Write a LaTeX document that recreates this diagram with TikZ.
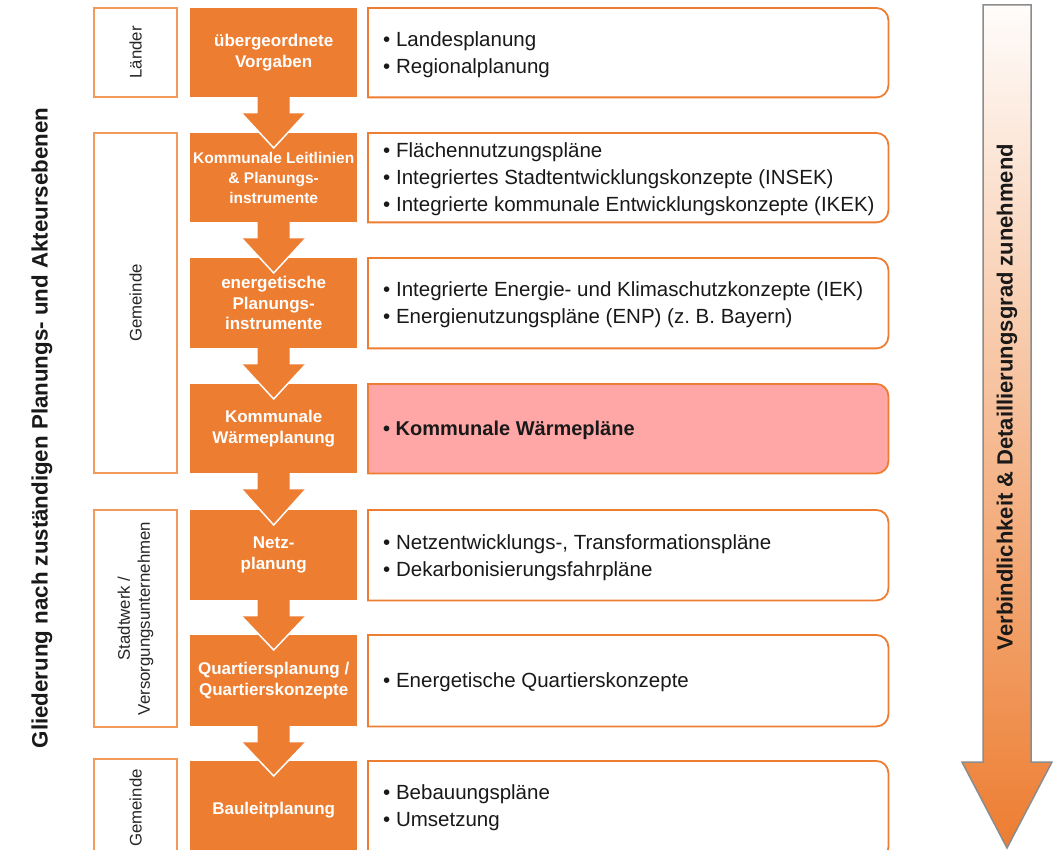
\documentclass[tikz,border=0pt]{standalone}
\usepackage{fontspec}
\setmainfont{Liberation Sans}
\usetikzlibrary{calc}
\definecolor{orng}{HTML}{ED7D31}
\definecolor{lblb}{HTML}{F19A5C}
\definecolor{pinkf}{HTML}{FFA7A7}
\definecolor{arrgray}{HTML}{8C8C8C}
\newcommand{\rightpanel}[4]{%
  \node[minimum width=520pt, minimum height=#3pt, inner sep=0pt, anchor=north west] (#1) at (368,#2) {};
  \draw[line width=1.8pt, draw=orng, fill=#4] (#1.north west) -- ([xshift=-12pt]#1.north east)
     arc[start angle=90,end angle=0,radius=12pt] -- ([yshift=12pt]#1.south east)
     arc[start angle=0,end angle=-90,radius=12pt] -- (#1.south west) -- cycle;
}
\newcommand{\flowarrow}[2]{%
  \fill[orng] ($(#1.south)+(-16,-0.5)$) -- ($(#1.south)+(-16,16)$) -- ($(#1.south)+(-32,16)$)
     -- ($(#2.north)+(0,15)$) -- ($(#1.south)+(32,16)$) -- ($(#1.south)+(16,16)$)
     -- ($(#1.south)+(16,-0.5)$) -- cycle;
  \draw[white, line width=1.5pt] ($(#1.south)+(-32,16)$) -- ($(#2.north)+(0,15)$) -- ($(#1.south)+(32,16)$);
}
\begin{document}
\begin{tikzpicture}[x=1pt,y=-1pt,
  lbl/.style={draw=lblb, line width=1.8pt, fill=white, rotate=90, inner sep=0pt, align=center,
    minimum height=83pt, font=\fontsize{16.8}{20}\selectfont, text=black!85},
  obox/.style={fill=orng, minimum width=167pt, inner sep=0pt, align=center, text=white,
    font=\fontsize{17}{20.5}\selectfont\bfseries, anchor=north west},
  rtext/.style={anchor=west, align=left, inner sep=0pt, font=\fontsize{20.5}{27}\selectfont, text=black!90},
  sidetext/.style={rotate=90, font=\fontsize{22}{26}\selectfont\bfseries, text=black!90},
]
\clip (0,0) rectangle (1053,850);
\fill[white] (0,0) rectangle (1053,850);

% left label boxes
\node[lbl, minimum width=89pt] (l1) at (135.5,52.5) {Länder};
\node[lbl, minimum width=340pt] (l2) at (135.5,303) {Gemeinde};
\node[lbl, minimum width=217pt] (l3) at (135.5,618.5) {Stadtwerk /\\Versorgungsunternehmen};
\node[lbl, minimum width=98pt] (l4) at (135.5,808) {Gemeinde};

% orange boxes
\node[obox, minimum height=89pt] (o1) at (190,8) {übergeordnete\\Vorgaben};
\node[obox, minimum height=89pt, font=\fontsize{15.5}{20}\selectfont\bfseries] (o2) at (190,133) {\raisebox{-4pt}{}Kommunale Leitlinien\\\& Planungs-\\instrumente};
\node[obox, minimum height=90pt] (o3) at (190,258) {energetische\\Planungs-\\instrumente};
\node[obox, minimum height=89pt] (o4) at (190,384) {Kommunale\\Wärmeplanung};
\node[obox, minimum height=90pt] (o5) at (190,510) {Netz-\\planung};
\node[obox, minimum height=91pt] (o6) at (190,635) {Quartiersplanung /\\Quartierskonzepte};
\node[obox, minimum height=98pt] (o7) at (190,761) {Bauleitplanung};

\flowarrow{o1}{o2}
\flowarrow{o2}{o3}
\flowarrow{o3}{o4}
\flowarrow{o4}{o5}
\flowarrow{o5}{o6}
\flowarrow{o6}{o7}

% right panels
\rightpanel{r1}{8}{89}{white}
\rightpanel{r2}{133}{89}{white}
\rightpanel{r3}{258}{90}{white}
\rightpanel{r4}{384}{89}{pinkf}
\rightpanel{r5}{510}{90}{white}
\rightpanel{r6}{635}{91}{white}
\rightpanel{r7}{761}{98}{white}

\node[rtext] (t1) at ($(r1.west)+(15,2)$) {• Landesplanung\\• Regionalplanung};
\node[rtext] (t2) at ($(r2.west)+(15,2)$) {• Flächennutzungspläne\\• Integriertes Stadtentwicklungskonzepte (INSEK)\\• Integrierte kommunale Entwicklungskonzepte (IKEK)};
\node[rtext] (t3) at ($(r3.west)+(15,2)$) {• Integrierte Energie- und Klimaschutzkonzepte (IEK)\\• Energienutzungspläne (ENP) (z.~B. Bayern)};
\node[rtext, font=\fontsize{20}{27}\selectfont\bfseries] (t4) at ($(r4.west)+(15,2)$) {• Kommunale Wärmepläne};
\node[rtext] (t5) at ($(r5.west)+(15,2)$) {• Netzentwicklungs-, Transformationspläne\\• Dekarbonisierungsfahrpläne};
\node[rtext] (t6) at ($(r6.west)+(15,1)$) {• Energetische Quartierskonzepte};
\node[rtext] (t7) at ($(r7.west)+(15,-3)$) {• Bebauungspläne\\• Umsetzung};

% big right arrow
\shadedraw[top color=orng!2, bottom color=orng, draw=arrgray, line width=1.5pt, line join=miter]
  (983,5) -- (1031,5) -- (1031,762) -- (1052,762) -- (1007,848) -- (962,762) -- (983,762) -- cycle;
\node[sidetext] (vt) at (1007,397) {Verbindlichkeit \& Detaillierungsgrad zunehmend};
\node[sidetext, font=\fontsize{22.3}{26}\selectfont\bfseries] (gt) at (42,428) {Gliederung nach zuständigen Planungs- und Akteursebenen};
\end{tikzpicture}
\end{document}
